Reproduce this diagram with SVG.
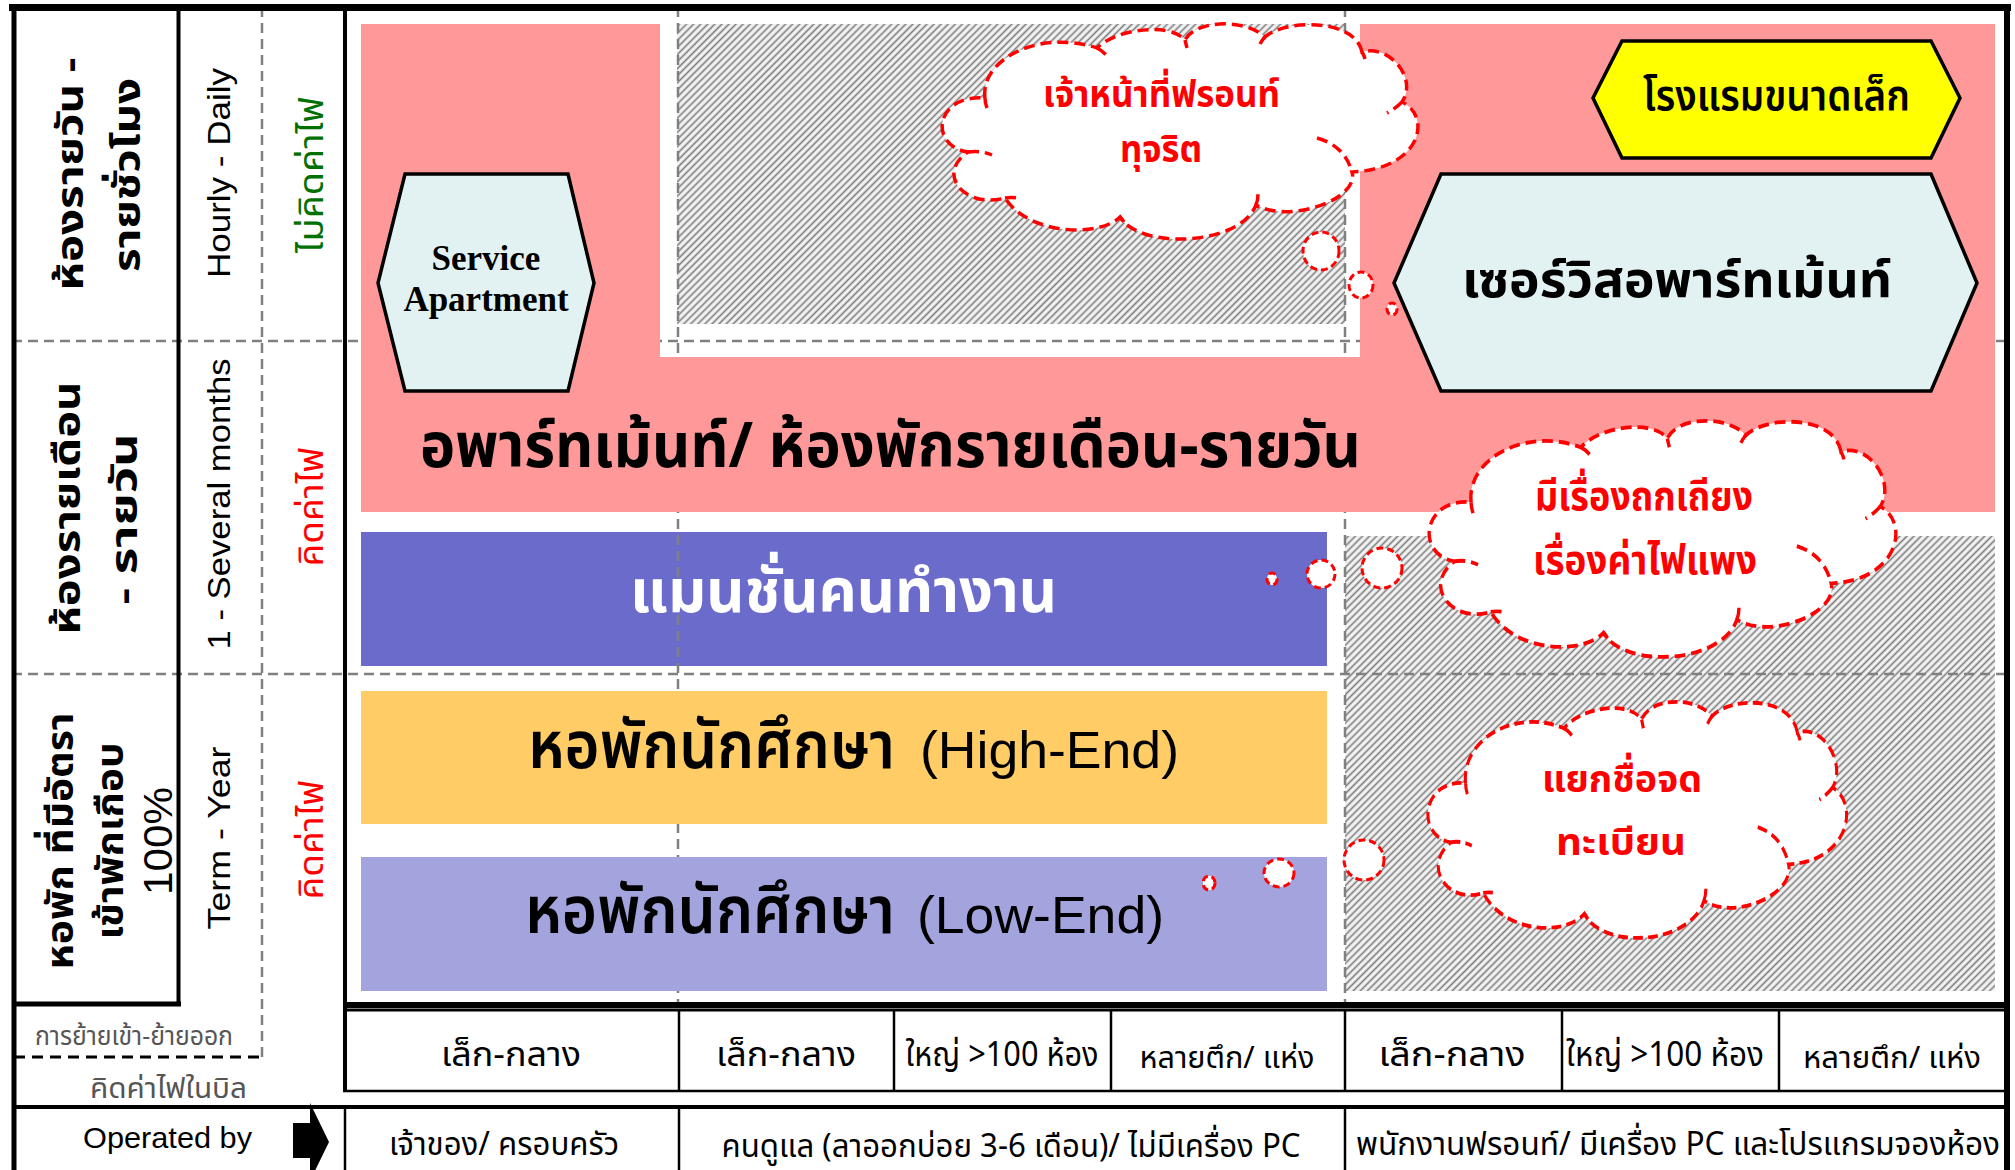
<svg xmlns="http://www.w3.org/2000/svg" width="2015" height="1170" viewBox="0 0 2015 1170">
<style>
.th{font-family:"Noto Sans Thai","Noto Sans Thai UI","Noto Sans","DejaVu Sans",sans-serif}
.lat{font-family:"Liberation Sans",Arial,sans-serif}
.b{font-weight:bold}
.dash{stroke:#808080;stroke-width:2.5;stroke-dasharray:10 6;fill:none}
.cloud{fill:#fff;stroke:#f00;stroke-width:3.5;stroke-dasharray:11 6}
.cin{fill:none;stroke:#f00;stroke-width:3.5;stroke-dasharray:11 6}
.bub{fill:#fff;stroke:#f00;stroke-width:3;stroke-dasharray:7 4}
.hex{stroke:#000;stroke-width:3.5}
.ln{stroke:#000;fill:none}
.red{fill:#f00}
</style>
<defs>
<pattern id="hatch" patternUnits="userSpaceOnUse" width="5" height="5" patternTransform="rotate(45)">
<rect width="5" height="5" fill="#f4f4f4"/>
<line x1="2.5" y1="0" x2="2.5" y2="5" stroke="#7a7a7a" stroke-width="1.6"/>
</pattern>
<path id="cloudShape" d="M45,74 C40,35 100,5 157,24 C175,5 230,-2 245,16 C255,-4 305,-6 325,13 C345,-5 415,-6 422,28 C450,20 478,55 462,78 C492,92 482,145 412,148 C420,175 350,200 316,181 C300,222 200,226 180,193 C160,213 90,212 65,174 C25,185 -5,150 28,128 C-12,122 -5,70 45,74 Z"/>
<path id="cloudInner" d="M45,74 Q45,79 47,84 M157,24 Q163,27 168,33 M245,16 Q246,20 247,24 M325,13 Q322,16 320,20 M422,28 Q424,31 425,35 M462,78 Q455,85 447,89 M377,114 Q405,122 412,148 M316,181 Q318,176 318,170 M180,193 Q182,195 184,198 M65,174 Q71,173 77,174 M28,128 Q40,126 52,131"/>
</defs>
<rect width="2015" height="1170" fill="#fff"/>

<g id="background">
<rect x="677" y="24" width="668" height="300" fill="url(#hatch)"/>
<rect x="1345" y="536" width="650" height="455" fill="url(#hatch)"/>
<rect id="mansion-bg" x="361" y="532" width="966" height="134" fill="#6b6bcc"/>
</g>

<g id="grid-dashes">
<line class="dash" x1="12" y1="341" x2="2007" y2="341"/>
<line class="dash" x1="12" y1="674" x2="2007" y2="674"/>
<line class="dash" x1="262" y1="7" x2="262" y2="1058"/>
<line class="dash" x1="678" y1="7" x2="678" y2="1005"/>
<line class="dash" x1="1345" y1="7" x2="1345" y2="1005"/>
<line x1="14" y1="1057" x2="262" y2="1057" stroke="#000" stroke-width="3" stroke-dasharray="11 7"/>
</g>

<g id="apartment">
<path d="M361,24 H660 V357 H1360 V24 H1995 V512 H361 Z" fill="#ff9999"/>
<text class="th b" x="420" y="467" font-size="63" textLength="941" lengthAdjust="spacingAndGlyphs">อพาร์ทเม้นท์/ ห้องพักรายเดือน-รายวัน</text>
</g>

<g id="mansion">
<text class="th b" x="630" y="612" font-size="60" fill="#fff" textLength="427" lengthAdjust="spacingAndGlyphs">แมนชั่นคนทำงาน</text>
</g>

<g id="dorm-high">
<rect x="361" y="691" width="966" height="133" fill="#ffcc66"/>
<text class="th" x="528" y="768" font-size="66" font-weight="600" textLength="367" lengthAdjust="spacingAndGlyphs">หอพักนักศึกษา</text>
<text class="lat" x="920" y="768" font-size="52" textLength="259" lengthAdjust="spacingAndGlyphs">(High-End)</text>
</g>

<g id="dorm-low">
<rect x="361" y="857" width="966" height="134" fill="#a3a3de"/>
<text class="th" x="525" y="933" font-size="66" font-weight="600" textLength="370" lengthAdjust="spacingAndGlyphs">หอพักนักศึกษา</text>
<text class="lat" x="917" y="933" font-size="52" textLength="247" lengthAdjust="spacingAndGlyphs">(Low-End)</text>
</g>

<g id="service-apartment">
<polygon class="hex" points="405,174 568,174 594,283 568,391 405,391 378,283" fill="#e2f2f2"/>
<text x="486" y="270" font-family="Liberation Serif,serif" font-weight="bold" font-size="35" text-anchor="middle">Service</text>
<text x="486" y="311" font-family="Liberation Serif,serif" font-weight="bold" font-size="35" text-anchor="middle">Apartment</text>
</g>

<g id="small-hotel">
<polygon class="hex" points="1622,41 1931,41 1960,98 1931,158 1622,158 1593,98" fill="#ffff00"/>
<text class="th" x="1643" y="110" font-size="43" font-weight="600" textLength="267" lengthAdjust="spacingAndGlyphs">โรงแรมขนาดเล็ก</text>
</g>

<g id="serviced-apartment">
<polygon class="hex" points="1441,174 1931,174 1977,283 1931,391 1441,391 1394,283" fill="#e2f2f2"/>
<text class="th b" x="1462" y="297" font-size="50" textLength="430" lengthAdjust="spacingAndGlyphs">เซอร์วิสอพาร์ทเม้นท์</text>
</g>

<g id="cloud-front">
<ellipse class="bub" cx="1392" cy="309" rx="5" ry="6"/>
<ellipse class="bub" cx="1361" cy="285" rx="12" ry="13"/>
<ellipse class="bub" cx="1321" cy="251" rx="18" ry="19"/>
<g transform="translate(940,24)">
<use href="#cloudShape" class="cloud"/>
<use href="#cloudInner" class="cin"/>
</g>
<text class="th b red" x="1043" y="107" font-size="37" textLength="237" lengthAdjust="spacingAndGlyphs">เจ้าหน้าที่ฟรอนท์</text>
<text class="th b red" x="1120" y="162" font-size="37" textLength="82" lengthAdjust="spacingAndGlyphs">ทุจริต</text>
</g>

<g id="cloud-dispute">
<ellipse class="bub" cx="1272" cy="579" rx="5" ry="6"/>
<ellipse class="bub" cx="1321" cy="574" rx="14" ry="14"/>
<ellipse class="bub" cx="1382" cy="568" rx="20" ry="20"/>
<g transform="translate(1427,421) scale(0.981,1.097)">
<use href="#cloudShape" class="cloud"/>
<use href="#cloudInner" class="cin"/>
</g>
<text class="th b red" x="1535" y="510" font-size="40" textLength="218" lengthAdjust="spacingAndGlyphs">มีเรื่องถกเถียง</text>
<text class="th b red" x="1533" y="574" font-size="40" textLength="224" lengthAdjust="spacingAndGlyphs">เรื่องค่าไฟแพง</text>
</g>

<g id="cloud-register">
<ellipse class="bub" cx="1209" cy="883" rx="6" ry="7"/>
<ellipse class="bub" cx="1279" cy="873" rx="15" ry="14"/>
<ellipse class="bub" cx="1364" cy="860" rx="20" ry="20"/>
<g transform="translate(1426,702) scale(0.88,1.097)">
<use href="#cloudShape" class="cloud"/>
<use href="#cloudInner" class="cin"/>
</g>
<text class="th b red" x="1542" y="792" font-size="38" textLength="160" lengthAdjust="spacingAndGlyphs">แยกชื่อจด</text>
<text class="th b red" x="1556" y="855" font-size="38" textLength="130" lengthAdjust="spacingAndGlyphs">ทะเบียน</text>
</g>

<g id="row-labels">
<text class="th b" transform="translate(83,174) rotate(-90)" font-size="38" text-anchor="middle" textLength="233" lengthAdjust="spacingAndGlyphs">ห้องรายวัน -</text>
<text class="th b" transform="translate(140,175) rotate(-90)" font-size="38" text-anchor="middle" textLength="194" lengthAdjust="spacingAndGlyphs">รายชั่วโมง</text>
<text class="th b" transform="translate(80,508) rotate(-90)" font-size="38" text-anchor="middle" textLength="253" lengthAdjust="spacingAndGlyphs">ห้องรายเดือน</text>
<text class="th b" transform="translate(137,519) rotate(-90)" font-size="38" text-anchor="middle" textLength="171" lengthAdjust="spacingAndGlyphs">- รายวัน</text>
<text class="th b" transform="translate(73,841) rotate(-90)" font-size="38" text-anchor="middle" textLength="257" lengthAdjust="spacingAndGlyphs">หอพัก ที่มีอัตรา</text>
<text class="th b" transform="translate(123,841) rotate(-90)" font-size="38" text-anchor="middle" textLength="197" lengthAdjust="spacingAndGlyphs">เข้าพักเกือบ</text>
<text class="lat" transform="translate(172,841) rotate(-90)" font-size="40" text-anchor="middle" textLength="108" lengthAdjust="spacingAndGlyphs">100%</text>
</g>

<g id="duration-labels">
<text class="lat" transform="translate(230,173) rotate(-90)" font-size="31" text-anchor="middle" textLength="210" lengthAdjust="spacingAndGlyphs">Hourly - Daily</text>
<text class="lat" transform="translate(230,504) rotate(-90)" font-size="31" text-anchor="middle" textLength="291" lengthAdjust="spacingAndGlyphs">1 - Several months</text>
<text class="lat" transform="translate(230,838) rotate(-90)" font-size="31" text-anchor="middle" textLength="183" lengthAdjust="spacingAndGlyphs">Term - Year</text>
</g>

<g id="electricity-labels">
<text class="th" transform="translate(323,175) rotate(-90)" font-size="34" fill="#007000" text-anchor="middle" textLength="156" lengthAdjust="spacingAndGlyphs">ไม่คิดค่าไฟ</text>
<text class="th" transform="translate(323,507) rotate(-90)" font-size="34" fill="#f00" text-anchor="middle" textLength="119" lengthAdjust="spacingAndGlyphs">คิดค่าไฟ</text>
<text class="th" transform="translate(323,840) rotate(-90)" font-size="34" fill="#f00" text-anchor="middle" textLength="119" lengthAdjust="spacingAndGlyphs">คิดค่าไฟ</text>
</g>

<g id="legend">
<text class="th" x="35" y="1045" font-size="26" fill="#555" textLength="198" lengthAdjust="spacingAndGlyphs">การย้ายเข้า-ย้ายออก</text>
<text class="th" x="90" y="1098" font-size="28" fill="#555" textLength="157" lengthAdjust="spacingAndGlyphs">คิดค่าไฟในบิล</text>
<text class="lat" x="83" y="1148" font-size="30" textLength="169" lengthAdjust="spacingAndGlyphs">Operated by</text>
<polygon points="293,1123 310,1123 310,1103 329,1142 310,1181 310,1158 293,1158" fill="#000"/>
</g>

<g id="size-row">
<text class="th" x="511" y="1066" font-size="34" text-anchor="middle" textLength="140" lengthAdjust="spacingAndGlyphs">เล็ก-กลาง</text>
<text class="th" x="786" y="1066" font-size="34" text-anchor="middle" textLength="140" lengthAdjust="spacingAndGlyphs">เล็ก-กลาง</text>
<text class="th" x="1002" y="1066" font-size="34" text-anchor="middle" textLength="193" lengthAdjust="spacingAndGlyphs">ใหญ่ &gt;100 ห้อง</text>
<text class="th" x="1227" y="1068" font-size="30" text-anchor="middle" textLength="175" lengthAdjust="spacingAndGlyphs">หลายตึก/ แห่ง</text>
<text class="th" x="1452" y="1066" font-size="34" text-anchor="middle" textLength="147" lengthAdjust="spacingAndGlyphs">เล็ก-กลาง</text>
<text class="th" x="1665" y="1066" font-size="34" text-anchor="middle" textLength="198" lengthAdjust="spacingAndGlyphs">ใหญ่ &gt;100 ห้อง</text>
<text class="th" x="1892" y="1068" font-size="30" text-anchor="middle" textLength="178" lengthAdjust="spacingAndGlyphs">หลายตึก/ แห่ง</text>
</g>

<g id="operator-row">
<text class="th" x="504" y="1155" font-size="32" text-anchor="middle" textLength="230" lengthAdjust="spacingAndGlyphs">เจ้าของ/ ครอบครัว</text>
<text class="th" x="1011" y="1157" font-size="32" text-anchor="middle" textLength="579" lengthAdjust="spacingAndGlyphs">คนดูแล (ลาออกบ่อย 3-6 เดือน)/ ไม่มีเครื่อง PC</text>
<text class="th" x="1678" y="1155" font-size="32" text-anchor="middle" textLength="644" lengthAdjust="spacingAndGlyphs">พนักงานฟรอนท์/ มีเครื่อง PC และโปรแกรมจองห้อง</text>
</g>

<g id="frame">
<line class="ln" x1="9" y1="7.5" x2="2011" y2="7.5" stroke-width="7"/>
<line class="ln" x1="14" y1="5" x2="14" y2="1170" stroke-width="5"/>
<line class="ln" x1="2007" y1="5" x2="2007" y2="1170" stroke-width="6"/>
<line class="ln" x1="178.5" y1="5" x2="178.5" y2="1006" stroke-width="4"/>
<line class="ln" x1="12" y1="1004" x2="181" y2="1004" stroke-width="5"/>
<line class="ln" x1="345" y1="5" x2="345" y2="1092" stroke-width="4"/>
<line class="ln" x1="343" y1="1005" x2="2010" y2="1005" stroke-width="6"/>
<line class="ln" x1="343" y1="1010" x2="2010" y2="1010" stroke-width="3"/>
<line class="ln" x1="343" y1="1091" x2="2010" y2="1091" stroke-width="2.5"/>
<line class="ln" x1="679" y1="1009" x2="679" y2="1092" stroke-width="2.5"/>
<line class="ln" x1="894" y1="1009" x2="894" y2="1092" stroke-width="2.5"/>
<line class="ln" x1="1111" y1="1009" x2="1111" y2="1092" stroke-width="2.5"/>
<line class="ln" x1="1345" y1="1009" x2="1345" y2="1092" stroke-width="2.5"/>
<line class="ln" x1="1562" y1="1009" x2="1562" y2="1092" stroke-width="2.5"/>
<line class="ln" x1="1779" y1="1009" x2="1779" y2="1092" stroke-width="2.5"/>
<line class="ln" x1="12" y1="1107" x2="2010" y2="1107" stroke-width="4"/>
<line class="ln" x1="345" y1="1106" x2="345" y2="1170" stroke-width="2.5"/>
<line class="ln" x1="679" y1="1106" x2="679" y2="1170" stroke-width="2.5"/>
<line class="ln" x1="1345" y1="1106" x2="1345" y2="1170" stroke-width="2.5"/>
</g>
</svg>
